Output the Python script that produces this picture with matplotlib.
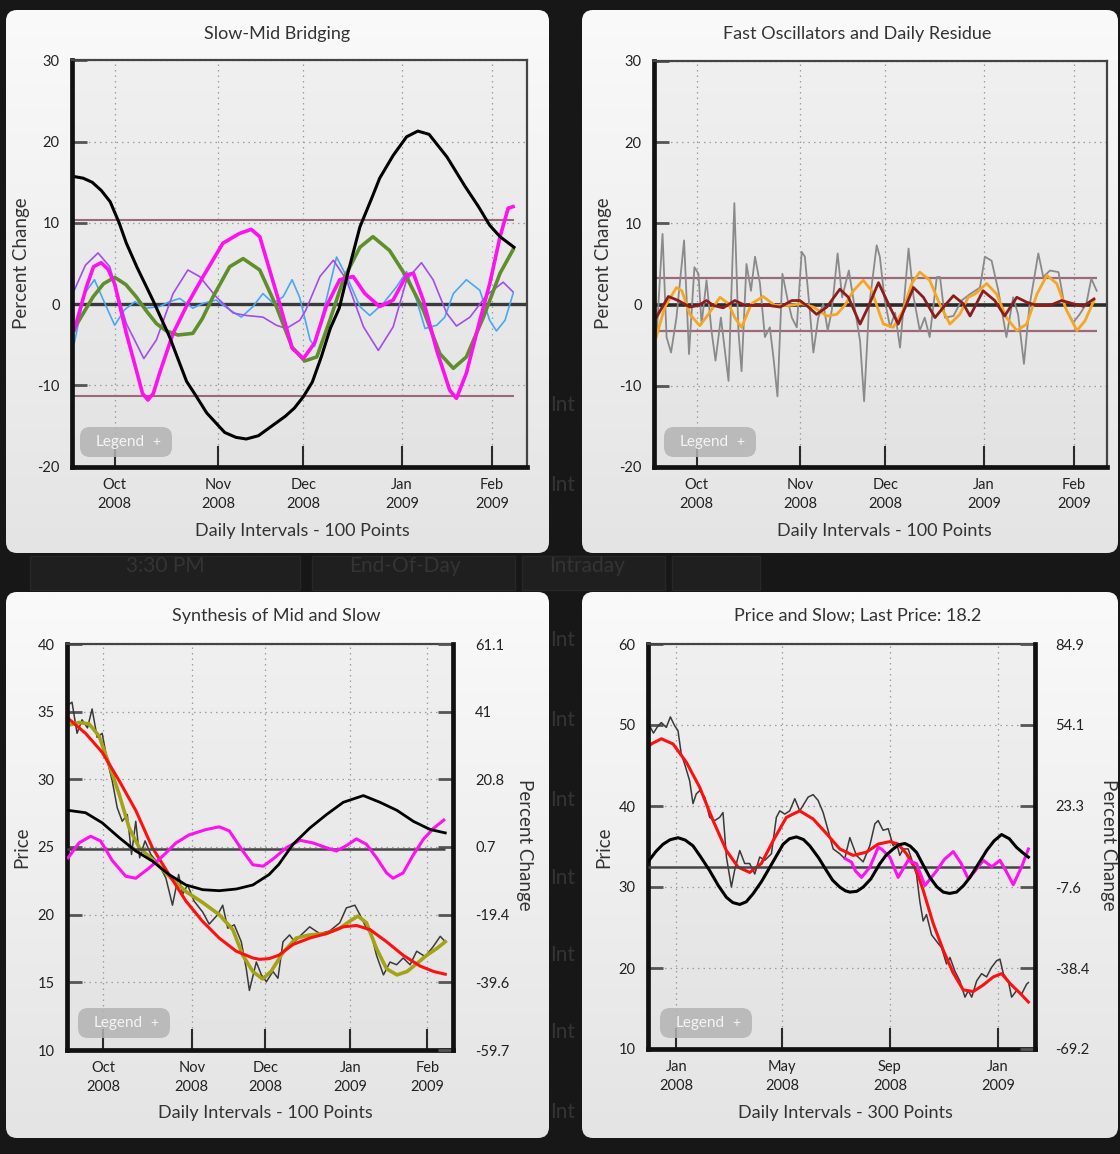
import numpy as np
import matplotlib.pyplot as plt
from matplotlib.patches import FancyBboxPatch, Rectangle
from matplotlib.colors import LinearSegmentedColormap

W, H = 1120, 1154
plt.rcParams['font.family'] = ['Lato', 'DejaVu Sans']
plt.rcParams['axes.unicode_minus'] = False

# ---------------- panel 1: Slow-Mid Bridging (percent change, trading-day index)
p1_month_idx = [10, 33, 52, 74, 94]
p1_month_lbl = ['Oct\n2008', 'Nov\n2008', 'Dec\n2008', 'Jan\n2009', 'Feb\n2009']
p1_bands = [10.3, -11.3]

p1_black_x = [1, 3, 5, 7, 9, 11, 12.6, 15, 18.5, 22.2, 26, 28, 30.5, 34.5, 37, 39.3, 42, 44, 48, 50, 52,
              54, 56, 58, 60, 62, 64.6, 67.2, 69, 72, 75, 77.5, 80, 84, 88, 91, 93.5, 95.8, 98.9]
p1_black = [15.7, 15.5, 15.0, 14.0, 12.6, 10.0, 7.5, 4.5, 0.5, -4.0, -9.5, -11.2, -13.4, -15.8, -16.4, -16.6,
            -16.2, -15.4, -13.8, -12.8, -11.4, -9.6, -6.5, -3.0, -0.5, 4.0, 9.5, 13.0, 15.5, 18.3, 20.6, 21.3,
            20.9, 18.1, 14.5, 12.0, 9.7, 8.3, 7.0]

p1_mag_x = [1, 3.7, 5.3, 7.0, 8.5, 10, 12.6, 15.2, 16.2, 17.4, 18.6, 20, 23, 26.3, 29.7, 34.1, 37.8, 40.4,
            42.3, 44.5, 46.7, 49.5, 52, 54.5, 57.1, 60.1, 63.1, 65.7, 69, 72, 75, 76.5, 78.7, 81.7, 84.6,
            86.1, 88.3, 91.3, 93.5, 95.8, 97.6, 98.7]
p1_mag = [-3.2, 2.1, 4.6, 5.1, 4.3, 2.5, -3.6, -8.9, -11.0, -11.8, -11.0, -8.5, -3.6, 0.1, 3.4, 7.5, 8.7, 9.2,
          8.3, 4.2, 0.1, -5.4, -6.7, -4.8, -0.3, 3.0, 3.4, 1.3, -0.3, 0.5, 3.6, 3.8, 0.5, -5.7, -10.6,
          -11.6, -8.5, -2.0, 2.5, 8.3, 11.8, 12.0]

p1_green_x = [1, 5.2, 7.5, 10, 12.5, 14.8, 17, 19.3, 21.5, 24.1, 27.4, 29.5, 31.9, 35.6, 38.6, 42.3, 46,
              49.5, 52.3, 55, 57.9, 60.9, 64.6, 67.5, 71.2, 74.9, 78.7, 82.4, 85.4, 88.3, 92.1, 95.8, 98.7]
p1_green = [-3.0, 0.9, 2.5, 3.3, 2.4, 0.9, -0.8, -2.4, -3.3, -3.8, -3.6, -1.8, 0.9, 4.6, 5.6, 4.2, -0.3,
            -5.3, -7.0, -6.5, -2.0, 3.0, 7.0, 8.3, 6.6, 3.4, -0.7, -6.1, -7.9, -6.5, -1.6, 3.8, 6.7]

p1_purple_x = [1, 3.5, 6.3, 8.9, 12.6, 16.5, 19.3, 23, 26.3, 28.9, 32.6, 36.4, 39.3, 43, 46, 48.2, 51.2,
               52.5, 55.7, 58.7, 61.6, 65.4, 68.7, 72, 75, 78.3, 80.9, 83.9, 86.1, 89.1, 92.8, 96.5, 98.7]
p1_purple = [1.7, 4.8, 6.3, 4.6, -2.4, -6.7, -4.4, 1.3, 4.2, 3.4, 0.9, -1.1, -1.4, -1.6, -2.6, -3.0, -2.0,
             -0.8, 3.4, 5.4, 3.0, -2.8, -5.7, -2.8, 3.0, 5.1, 3.0, -1.1, -2.7, -1.6, 1.1, 2.7, 1.5]

p1_blue_x = [1, 3.3, 5.5, 7.8, 10, 12.2, 14.5, 17, 20, 22.2, 24.5, 27.4, 29.7, 32.6, 35.6, 38.2, 40.8, 43,
             45.3, 47.5, 49.5, 51.2, 53.5, 54.5, 57.1, 59.4, 62, 64.6, 66.8, 69.8, 72.7, 75, 77.2, 79.1,
             81.7, 83.5, 85.4, 88.3, 91.3, 93.5, 95, 96.9, 98.7]
p1_blue = [-4.8, 1.3, 3.0, 0.1, -2.6, -0.7, 0.3, -0.5, -0.3, 0.3, 0.7, -0.5, 0.1, 0.5, -0.7, -1.6, -0.3,
           1.3, 0.1, 0.9, 3.0, 0.8, -4.4, -5.2, 0.5, 5.8, 3.0, -0.3, -1.4, 0.1, 2.1, 4.0, 0.5, -3.0, -2.6,
           -1.6, 1.3, 3.0, 1.7, -2.0, -3.3, -2.0, 1.3]

# ---------------- panel 2: Fast Oscillators and Daily Residue
p2_bands = [3.3, -3.3]
p2_gray_x = [1.1, 2.4, 3.3, 4.3, 5.5, 7.2, 8.3, 9.5, 10.4, 11.1, 12.2, 13.3, 14.2, 15.4, 17.1, 18.4, 19.3,
             20.0, 21.1, 22.1, 23.0, 24.1, 25.2, 26.3, 27.1, 28.0, 29.1, 30.3, 31.2, 32.3, 33.4, 34.1, 35.0,
             36.0, 37.1, 38.2, 39.2, 40.1, 41.4, 42.4, 43.9, 45.3, 46.4, 47.3, 48.4, 50.1, 50.8, 51.9, 53.1,
             54.2, 55.3, 57.2, 58.3, 59.7, 60.8, 61.9, 63.5, 64.2, 65.3, 67.2, 69.0, 70.9, 73.1, 74.2, 75.7,
             77.2, 79.0, 80.5, 81.6, 82.9, 84.1, 86.1, 87.2, 88.7, 90.6, 92.0, 93.9, 95.3, 96.8, 97.9, 99.1]
p2_gray = [-3.6, 8.7, -4.0, -5.9, -1.6, 7.9, -6.1, 4.6, 3.8, -2.4, 3.0, -3.2, -6.9, -1.6, -9.4, 12.5, -3.2,
           -8.2, 5.0, 1.7, 5.9, 2.6, -4.0, -2.8, -6.5, -11.3, 3.8, 0.5, -1.6, -2.8, 6.5, 5.9, 0.5, -5.9,
           -1.6, 0.1, -3.2, -0.7, 6.3, 0.9, 4.2, -0.7, -4.5, -11.9, -0.3, 7.3, 5.9, 0.5, -2.8, -1.0, -5.3,
           6.9, 1.0, -3.2, -1.6, -4.0, 3.4, 3.4, -1.6, -1.4, 0.5, 1.3, 2.1, 5.9, 5.4, 1.7, -4.0, 0.9, -1.2,
           -7.3, -0.3, 6.3, 3.4, 4.2, 4.0, -0.3, -2.2, -1.2, 0.1, 3.2, 1.7]

p2_orange_x = [1, 2.9, 5.5, 6.7, 8.5, 10.7, 12.6, 15.2, 17.1, 18.5, 20, 22.2, 24.8, 27.4, 30.4, 33.4, 36,
               39, 41.2, 43, 44.9, 47.1, 49, 50.8, 51.6, 53.8, 56, 57.9, 59.7, 61.9, 64.1, 66.4, 68.6, 70.5,
               72, 74.6, 76.8, 79, 81.3, 83.5, 85.8, 88, 90.2, 92.4, 94.7, 96.5, 98.5]
p2_orange = [-4.0, -0.3, 2.1, 1.7, -1.2, -2.6, -1.2, 0.9, 0.1, -1.6, -2.8, 0.1, 1.0, -0.1, -0.1, 0.1, -0.3,
             -1.4, -1.2, -0.1, 1.7, 3.0, 1.7, -1.2, -2.4, -2.8, -0.7, 2.6, 4.0, 3.0, 0.1, -2.4, -1.2, 0.9,
             1.3, 2.6, 1.3, -1.6, -3.2, -2.4, 1.3, 3.6, 2.6, -0.7, -3.2, -2.0, 0.5]

p2_red_x = [1, 3.7, 5.9, 8.5, 10.4, 12.2, 13.7, 15.9, 18.5, 20.8, 23.7, 26, 28.6, 31.2, 33, 34.9, 36.7,
            39, 41.9, 43.8, 46.4, 48.2, 50.5, 52.7, 54.9, 58.3, 60.5, 63.1, 65.3, 67.2, 69.4, 70.9, 73.8,
            76.4, 78.6, 81.3, 83.5, 85.7, 88.7, 91.3, 93.9, 96.1, 98.5]
p2_red = [-1.6, 1.0, 0.5, -0.3, -0.1, 0.5, -0.1, -0.4, 0.5, -0.1, -0.1, -0.1, -0.3, 0.5, 0.5, -0.3, -1.2,
          -0.3, 1.9, 0.9, -2.4, -0.3, 2.7, 0.1, -2.4, 2.1, 0.9, -1.6, -0.1, 1.1, 0.1, -1.4, 1.7, 0.5, -1.4,
          0.9, 0.3, -0.1, -0.1, 0.5, 0.1, -0.2, 0.7]

# ---------------- panel 3: Synthesis of Mid and Slow (price left, percent right)
p3_pct_ticks = [-59.7, -39.6, -19.4, 0.7, 20.8, 41, 61.1]
p3_pct_lbl = ['-59.7', '-39.6', '-19.4', '0.7', '20.8', '41', '61.1']

p3_black_x = [1, 5.5, 9.8, 14.2, 18.5, 22.8, 27.1, 31.5, 35.8, 40.1, 44.5, 48.8, 53, 55.5, 59.2, 63.5,
              67.8, 72.2, 77.4, 81.7, 86.1, 90.4, 94.7, 98.6]
p3_black = [11.6, 10.9, 7.9, 3.5, -0.5, -3.5, -7.5, -10.6, -12.0, -12.3, -11.8, -10.6, -7.5, -4.5, 1.5,
            6.3, 10.3, 14.0, 16.0, 14.0, 11.6, 8.3, 5.9, 4.9]

p3_mag_x = [1, 3.8, 6.8, 9.4, 12.4, 15.9, 18.5, 21.9, 25.4, 28.9, 32.3, 36.7, 40.1, 42.7, 46.2, 48.8,
            51.5, 54, 57.5, 61, 64.4, 67.8, 70.4, 73, 75.6, 78.2, 80.8, 83.4, 85.1, 87.7, 90.4, 93, 95.6, 98.2]
p3_mag = [-2.5, 1.9, 3.9, 2.5, -3.3, -8.0, -8.6, -5.6, -2.1, 1.9, 4.3, 5.9, 6.7, 5.5, -0.5, -4.6, -5.0,
          -2.9, 0.5, 2.7, 1.9, 0.5, -0.5, 1.1, 3.1, 1.5, -2.5, -7.0, -8.6, -7.0, -1.5, 3.1, 6.3, 8.7]

p3_red_x = [1, 5.5, 9.8, 14.2, 18.5, 22.8, 27.1, 31.5, 35.8, 40.1, 44.5, 48.8, 50.5, 53, 55.5, 59.2, 63.5,
            67.8, 72.2, 75.6, 79.1, 83.4, 87.7, 92.1, 95.6, 98.6]
p3_red = [34.5, 33.4, 32.0, 29.9, 27.7, 24.95, 22.97, 21.0, 19.5, 18.27, 17.3, 16.8, 16.7, 16.75, 17.0,
          17.8, 18.27, 18.6, 19.1, 19.2, 18.9, 18.0, 17.0, 16.2, 15.8, 15.6]

p3_olive_x = [1, 3.8, 6.4, 9, 11.6, 14.2, 16.8, 19.4, 22.8, 27.1, 31.5, 35.8, 40.1, 43.6, 46.2, 48.8, 51.3,
              53.5, 56.6, 60, 63.5, 67.8, 71.3, 73.8, 76, 78.2, 80.8, 83.4, 86.1, 88.7, 91.3, 93.8, 96.4, 98.6]
p3_olive = [34.0, 34.2, 34.1, 33.2, 31.1, 28.9, 26.4, 24.95, 24.1, 22.85, 21.7, 20.9, 20.0, 18.9, 17.0,
            15.8, 15.25, 15.8, 17.2, 18.27, 18.5, 18.6, 19.0, 19.5, 19.9, 19.4, 17.5, 16.0, 15.55, 15.8,
            16.4, 17.0, 17.5, 18.0]

p3_price_x = [1, 2, 3.3, 4.6, 6, 7.2, 8.5, 9.8, 11.1, 12.4, 13.7, 15, 16.3, 17.4, 18.5, 19.5, 20.9, 22.4,
              24.5, 26.3, 28, 29.6, 30.6, 31.9, 33.6, 35.8, 37.5, 39.7, 41, 42.3, 44, 45.8, 47.1, 47.9, 49.7,
              51, 52.3, 54, 55.3, 56.6, 58.3, 59.6, 61.3, 63.5, 66.1, 68.7, 71.3, 73, 75.2, 76.5, 78.2, 79.5,
              80.8, 82.6, 84.3, 86, 87.7, 89.5, 91.2, 93.4, 95.5, 97.3, 98.6]
p3_price = [35.5, 35.7, 33.4, 34.4, 33.8, 35.2, 33.1, 33.4, 31.4, 29.9, 27.9, 26.9, 27.4, 24.45, 26.9,
            24.2, 25.45, 24.45, 23.7, 22.7, 20.7, 22.97, 21.5, 22.2, 21.0, 20.2, 19.3, 20.0, 20.7, 19.0,
            19.25, 18.0, 16.0, 14.4, 16.5, 15.55, 15.05, 15.8, 15.3, 18.0, 18.5, 18.0, 18.5, 19.1, 18.6,
            18.8, 19.4, 20.5, 20.7, 20.0, 19.0, 18.5, 17.0, 15.55, 16.5, 16.3, 16.8, 16.3, 17.3, 16.9,
            17.65, 18.4, 18.0]

# ---------------- panel 4: Price and Slow (300 daily points)
p4_month_idx = [22, 105, 190, 275]
p4_month_lbl = ['Jan\n2008', 'May\n2008', 'Sep\n2008', 'Jan\n2009']
p4_pct_ticks = [-69.2, -38.4, -7.6, 23.3, 54.1, 84.9]
p4_pct_lbl = ['-69.2', '-38.4', '-7.6', '23.3', '54.1', '84.9']

p4_red_x = [0, 2.3, 10.2, 19.4, 29.9, 40.4, 50.9, 61.4, 70.6, 79.7, 88.9, 98.1, 108.6, 119.1, 129.6,
            140.1, 150.6, 161.1, 171.6, 180.8, 190, 196.5, 203.1, 211, 216.2, 224.1, 232, 239.8, 247.7,
            255.6, 263.5, 271.4, 277.9, 284.5, 292.4, 299]
p4_red = [47.3, 47.66, 48.3, 47.66, 45.4, 42.3, 38.2, 34.5, 32.45, 31.8, 32.9, 35.7, 38.6, 39.4, 38.4,
          36.6, 34.7, 33.9, 34.3, 35.3, 35.6, 35.3, 34.1, 32.0, 29.6, 25.5, 22.2, 19.4, 17.3, 17.1, 17.9,
          18.9, 19.3, 18.1, 16.9, 15.8]

p4_black_x = [0, 6, 11.5, 17, 23.3, 29, 35.1, 41, 48.2, 55, 61.4, 66.5, 71.9, 77, 82.4, 89, 95.5, 101,
              106, 111, 116.5, 122, 127, 134, 140.1, 145, 150.6, 155, 158.5, 164, 169, 175, 182.1, 187,
              192.6, 197, 201.8, 206, 211, 216, 221.5, 227, 232, 237, 242.5, 248, 253, 260, 266.1, 272,
              277.9, 284, 289.7, 295, 299]
p4_black = [2.2, 6.0, 8.7, 10.4, 11.2, 10.3, 8.1, 4.0, -1.3, -7.0, -11.5, -13.5, -14.2, -13.2, -10.1,
            -5.5, -0.1, 4.5, 8.7, 10.8, 11.5, 10.5, 8.1, 3.5, -1.3, -5.0, -7.6, -9.0, -9.5, -9.2, -7.6,
            -4.5, 1.3, 4.5, 6.9, 8.5, 9.0, 8.0, 5.6, 1.0, -3.9, -7.5, -9.5, -10.0, -9.5, -7.0, -3.9, 1.5,
            6.3, 10.0, 12.4, 10.8, 7.5, 5.3, 3.8]

p4_mag_x = [155, 159.8, 163, 167.7, 174.2, 180.8, 183.4, 190, 196.5, 204.4, 211, 217.6, 226.8, 233, 239.9,
            246, 251.7, 257, 263.5, 270.1, 276.6, 282, 287.1, 294, 299]
p4_mag = [3.2, 1.9, -1.5, -3.9, -0.1, 7.5, 6.9, 3.8, -3.9, 2.6, 1.3, -7.0, -1.4, 3.0, 5.9, 1.5, -4.5,
          -1.5, 2.6, 0.1, 2.6, -2.0, -6.7, 0.5, 6.9]

p4_price_x = [0, 1, 4, 7.6, 10.2, 14.1, 17.3, 20.7, 23.3, 25.9, 28.5, 32.5, 35.1, 37.7, 40.4, 44.3, 48.2,
              52.2, 56.1, 58.7, 61.4, 65.3, 67.9, 71.9, 75.8, 79.7, 83.7, 87.6, 91.6, 96.8, 100.7, 103.4,
              107.3, 111.2, 115.2, 119.1, 125.7, 129.6, 133.5, 137.5, 141.4, 145.4, 150.6, 154.5, 158.5,
              163.7, 169, 174.2, 178.2, 180.8, 184.7, 188.7, 192.6, 195.2, 197.8, 200.5, 204.4, 207, 211,
              213.6, 216.2, 218.8, 222.8, 226.7, 230.7, 234.6, 237.3, 241.2, 245.1, 249.1, 251.7, 254.4,
              258.3, 262.2, 266.1, 270.1, 274, 276.6, 279.3, 283.2, 285.8, 289.7, 293.7, 297.6, 299]
p4_price = [48.5, 49.9, 49.0, 49.9, 50.3, 49.7, 51.0, 49.9, 49.3, 46.4, 45.2, 43.1, 40.3, 41.5, 41.9,
            41.1, 38.6, 38.2, 38.6, 39.2, 33.7, 30.0, 32.1, 34.5, 32.9, 32.9, 31.6, 33.7, 33.3, 34.1, 38.6,
            39.4, 39.0, 39.4, 40.9, 39.4, 41.1, 41.4, 40.7, 39.2, 37.0, 34.7, 34.1, 33.5, 36.1, 33.9, 33.1,
            35.1, 37.8, 38.2, 37.0, 37.2, 35.1, 35.5, 33.9, 34.7, 34.7, 33.5, 31.5, 28.2, 25.8, 26.6, 24.1,
            23.3, 22.5, 20.5, 21.3, 19.6, 18.4, 16.4, 17.2, 16.4, 18.4, 19.3, 18.9, 20.1, 20.9, 21.1, 19.3,
            18.4, 16.4, 17.2, 16.8, 18.0, 18.2]


fig = plt.figure(figsize=(W / 100, H / 100), dpi=100)
fig.patch.set_facecolor('#171717')

bg = fig.add_axes([0, 0, 1, 1], zorder=0)
bg.axis('off')


def rect(l, t, r, b):
    return [l / W, 1 - b / H, (r - l) / W, (b - t) / H]


def gradient(l, t, r, b, c0, c1, radius=0):
    cmap = LinearSegmentedColormap.from_list('g', [c0, c1])
    im = bg.imshow(np.linspace(0, 1, 256).reshape(-1, 1), cmap=cmap, aspect='auto',
                   extent=(l, r, b, t), origin='upper', zorder=2, interpolation='bilinear')
    if radius:
        clip = FancyBboxPatch((l, t), r - l, b - t, boxstyle=f'round,pad=0,rounding_size={radius}',
                              transform=bg.transData, fc='none', ec='none')
        bg.add_patch(clip)
        im.set_clip_path(clip)


# the app UI showing through between the cards
for l, r in [(30, 300), (312, 515), (522, 665), (672, 760)]:
    bg.add_patch(Rectangle((l, 556), r - l, 34, fc='#1f1f1f', ec='#272727', lw=1, zorder=1))
ghost = dict(color='#343434', fontsize=15, va='center', zorder=1)
bg.text(165, 566, '3:30 PM', ha='center', **ghost)
bg.text(405, 566, 'End-Of-Day', ha='center', **ghost)
bg.text(549, 566, 'Intraday', ha='left', **ghost)
for y in [405, 485, 640, 720, 800, 878, 955, 1032, 1112]:
    bg.text(550, y, 'Int', ha='left', **ghost)

for box in [(6, 10, 549, 553), (582, 10, 1118, 553), (6, 592, 549, 1138), (582, 592, 1118, 1138)]:
    gradient(*box, '#fafafa', '#e4e4e4', radius=11)


def make_axes(box, xlim, ylim, xticks, xlabels, yticks):
    gradient(*box, '#f0f0f0', '#e3e3e3')
    ax = fig.add_axes(rect(*box), zorder=5)
    ax.set_facecolor('none')
    ax.set_xlim(*xlim)
    ax.set_ylim(*ylim)
    ax.set_xticks(xticks)
    ax.set_xticklabels(xlabels, linespacing=1.45)
    ax.set_yticks(yticks)
    ax.tick_params(axis='x', direction='in', length=15, width=1.5, color='#2a2a2a', pad=8,
                   labelsize=10.5, labelcolor='#222222')
    ax.tick_params(axis='y', direction='in', length=11, width=2, color='#555555', pad=9,
                   labelsize=10.5, labelcolor='#222222')
    ax.grid(True, color='#9c9c9c', lw=0.9, ls=(0, (1.2, 3.2)))
    for s in ('left', 'bottom'):
        ax.spines[s].set_linewidth(3.4)
        ax.spines[s].set_color('#111111')
    for s in ('top', 'right'):
        ax.spines[s].set_linewidth(1.6)
        ax.spines[s].set_color('#444444')
    return ax


def add_right(ax, ylim, ticks, labels, pad):
    ax2 = ax.twinx()
    ax2.set_zorder(6)
    ax2.set_ylim(*ylim)
    ax2.set_yticks(ticks)
    ax2.set_yticklabels(labels)
    ax2.tick_params(axis='y', direction='in', length=11, width=2, color='#555555', pad=pad,
                    labelsize=10.5, labelcolor='#222222')
    for s in ('left', 'bottom', 'top'):
        ax2.spines[s].set_visible(False)
    ax2.spines['right'].set_linewidth(3.4)
    ax2.spines['right'].set_color('#111111')
    ax.spines['right'].set_visible(False)
    return ax2


# panel 1
ax1 = make_axes((72, 60.4, 527, 466.6), (0.5, 101.8), (-20, 30), p1_month_idx, p1_month_lbl,
                [-20, -10, 0, 10, 20, 30])
ax1.hlines(p1_bands, 1, 99, color='#9a6a78', lw=1.5)
ax1.axhline(0, color='#3a3a3a', lw=2.4)
ax1.plot(p1_blue_x, p1_blue, color='#4aa6f5', lw=1.2, solid_joinstyle='round')
ax1.plot(p1_purple_x, p1_purple, color='#a24cf0', lw=1.2, solid_joinstyle='round')
ax1.plot(p1_green_x, p1_green, color='#5f8f2c', lw=2.6, solid_joinstyle='round')
ax1.plot(p1_mag_x, p1_mag, color='#ff10f0', lw=2.6, solid_joinstyle='round')
ax1.plot(p1_black_x, p1_black, color='#000000', lw=2.2, solid_joinstyle='round')

# panel 2
ax2 = make_axes((654, 61, 1107, 467), (0.5, 101.4), (-20, 30), p1_month_idx, p1_month_lbl,
                [-20, -10, 0, 10, 20, 30])
ax2.hlines(p2_bands, 0.5, 99.2, color='#9a6a78', lw=1.6)
ax2.axhline(0, color='#2a2a2a', lw=2.6)
ax2.plot(p2_gray_x, p2_gray, color='#8a8a8a', lw=1.3)
ax2.plot(p2_orange_x, p2_orange, color='#f5a623', lw=2.0, solid_joinstyle='round')
ax2.plot(p2_red_x, p2_red, color='#8b1d1d', lw=2.0, solid_joinstyle='round')

# panel 3
ax3 = make_axes((67, 644, 453, 1050), (0.7, 100.6), (10, 40), p1_month_idx, p1_month_lbl,
                [10, 15, 20, 25, 30, 35, 40])
ax3.plot(p3_price_x, p3_price, color='#3a3a3a', lw=1.1)
ax3.plot(p3_olive_x, p3_olive, color='#a3a314', lw=2.6, solid_joinstyle='round')
ax3.plot(p3_red_x, p3_red, color='#ff1010', lw=2.2, solid_joinstyle='round')
ax3r = add_right(ax3, (-59.7, 61.1), p3_pct_ticks, p3_pct_lbl, 16)
ax3r.hlines(0, 0.7, 98.6, color='#444444', lw=1.8)
ax3r.plot(p3_mag_x, p3_mag, color='#ff10f0', lw=2.2, solid_joinstyle='round')
ax3r.plot(p3_black_x, p3_black, color='#000000', lw=2.0, solid_joinstyle='round')

# panel 4
ax4 = make_axes((648, 644, 1035, 1049), (-0.3, 304.2), (10, 60), p4_month_idx, p4_month_lbl,
                [10, 20, 30, 40, 50, 60])
ax4.plot(p4_price_x, p4_price, color='#3a3a3a', lw=1.1)
ax4.plot(p4_red_x, p4_red, color='#ff1010', lw=2.2, solid_joinstyle='round')
ax4r = add_right(ax4, (-69.2, 84.9), p4_pct_ticks, p4_pct_lbl, 14.5)
ax4r.hlines(0, 0, 300, color='#444444', lw=1.8)
ax4r.plot(p4_mag_x, p4_mag, color='#ff10f0', lw=2.2, solid_joinstyle='round')
ax4r.plot(p4_black_x, p4_black, color='#000000', lw=2.2, solid_joinstyle='round')

bg.set_xlim(0, W)
bg.set_ylim(H, 0)

# overlay for titles, labels and the Legend buttons
ov = fig.add_axes([0, 0, 1, 1], zorder=20)
ov.set_xlim(0, W)
ov.set_ylim(H, 0)
ov.axis('off')
ov.patch.set_alpha(0)

txt = dict(color='#333333', ha='center', va='center')
ov.text(277, 34, 'Slow-Mid Bridging', fontsize=13, **txt)
ov.text(857, 34, 'Fast Oscillators and Daily Residue', fontsize=13, **txt)
ov.text(276, 616, 'Synthesis of Mid and Slow', fontsize=13, **txt)
ov.text(858, 616, 'Price and Slow; Last Price: 18.2', fontsize=13, **txt)
for x, y in [(302, 531), (884, 531), (265, 1113)]:
    ov.text(x, y, 'Daily Intervals - 100 Points', fontsize=13, **txt)
ov.text(845, 1113, 'Daily Intervals - 300 Points', fontsize=13, **txt)
ov.text(22, 263, 'Percent Change', fontsize=13.5, rotation=90, **txt)
ov.text(604, 263, 'Percent Change', fontsize=13.5, rotation=90, **txt)
ov.text(22, 847, 'Price', fontsize=13.5, rotation=90, **txt)
ov.text(604, 847, 'Price', fontsize=13.5, rotation=90, **txt)
ov.text(524, 845, 'Percent Change', fontsize=13.5, rotation=270, **txt)
ov.text(1108, 845, 'Percent Change', fontsize=13.5, rotation=270, **txt)

for l, t in [(80, 427), (664, 427), (78, 1008), (660, 1008)]:
    ov.add_patch(FancyBboxPatch((l, t), 92, 30, boxstyle='round,pad=0,rounding_size=10',
                                fc='#b3b3b3', ec='none', alpha=0.85))
    ov.text(l + 40, t + 15, 'Legend', color='#f4f4f4', fontsize=11, ha='center', va='center')
    ov.text(l + 76, t + 15, '+', color='#f4f4f4', fontsize=10, ha='center', va='center')

fig.savefig('out.png', dpi=100, facecolor=fig.get_facecolor())
